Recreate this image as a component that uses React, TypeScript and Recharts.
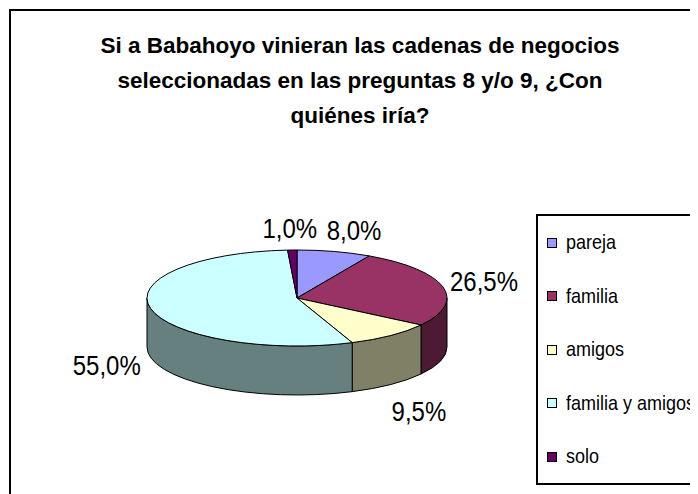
import React from 'react';
import { PieChart, Pie, Legend } from 'recharts';

const categories = ['pareja', 'familia', 'amigos', 'familia y amigos', 'solo'];
const percentages = [8.0, 26.5, 9.5, 55.0, 1.0];
const sliceColors = ['#9999FF', '#993366', '#FFFFCC', '#CCFFFF', '#660066'];
const titleLines = [
  'Si a Babahoyo vinieran las cadenas de negocios',
  'seleccionadas en las preguntas 8 y/o 9, ¿Con',
  'quiénes iría?',
];

const data = categories.map((name, i) => ({ name, value: percentages[i], fill: sliceColors[i] }));

const TILT = 0.32; // vertical squash of the top ellipse
const DEPTH = 49; // height of the pie wall
const FONT = "'Liberation Sans', Arial, sans-serif";

// darker shade for the side walls
const shade = (hex: string) => {
  const n = parseInt(hex.slice(1), 16);
  const r = Math.round(((n >> 16) & 255) * 0.5);
  const g = Math.round(((n >> 8) & 255) * 0.5);
  const b = Math.round((n & 255) * 0.5);
  return `rgb(${r},${g},${b})`;
};

const pt = (cx: number, cy: number, rx: number, deg: number) => {
  const r = (deg * Math.PI) / 180;
  return [cx + rx * Math.cos(r), cy - rx * TILT * Math.sin(r)];
};

function TopFace(props: any) {
  const { cx, cy, outerRadius, startAngle, endAngle } = props;
  const color = props.payload?.fill ?? props.fill;
  const rx = outerRadius;
  const ry = rx * TILT;
  const [x1, y1] = pt(cx, cy, rx, startAngle);
  const [x2, y2] = pt(cx, cy, rx, endAngle);
  const large = Math.abs(startAngle - endAngle) > 180 ? 1 : 0;
  const sweep = startAngle > endAngle ? 1 : 0;
  const d = `M${cx},${cy} L${x1},${y1} A${rx},${ry} 0 ${large} ${sweep} ${x2},${y2} Z`;
  return <path d={d} fill={color} stroke="#000" strokeWidth={1} strokeLinejoin="round" />;
}

function SideFace(props: any) {
  const { cx, cy, outerRadius, startAngle, endAngle } = props;
  const color = shade(props.payload?.fill ?? props.fill);
  const rx = outerRadius;
  const ry = rx * TILT;
  const lo = Math.min(startAngle, endAngle);
  const hi = Math.max(startAngle, endAngle);
  const paths: string[] = [];
  for (let n = -2; n <= 1; n++) {
    const a = Math.max(lo, 180 + 360 * n);
    const b = Math.min(hi, 360 + 360 * n);
    if (b - a <= 0.01) continue;
    const [xb, yb] = pt(cx, cy, rx, b);
    const [xa, ya] = pt(cx, cy, rx, a);
    paths.push(
      `M${xb},${yb} A${rx},${ry} 0 0 1 ${xa},${ya} L${xa},${ya + DEPTH} A${rx},${ry} 0 0 0 ${xb},${yb + DEPTH} Z`
    );
  }
  return (
    <g>
      {paths.map((d, i) => (
        <path key={i} d={d} fill={color} stroke="#000" strokeWidth={1} strokeLinejoin="round" />
      ))}
    </g>
  );
}

const renderLabel = (props: any) => {
  const { cx, cy, outerRadius, midAngle, value } = props;
  const r = (midAngle * Math.PI) / 180;
  const s = Math.sin(r);
  const ry = outerRadius * TILT;
  // labels near the top get pushed further out sideways so they don't collide
  const gap = s > 0 ? 40 + 42 * s * s : 45;
  const x = cx + (outerRadius + gap) * Math.cos(r);
  const y = s >= 0 ? cy - (ry + 22) * s : cy - (ry + 34) * s + DEPTH;
  return (
    <g transform={`translate(${x},${y}) scale(1,1.18)`}>
      <text x={0} y={0} textAnchor="middle" dominantBaseline="central" fill="#000" fontFamily={FONT} fontSize={24}>
        {`${value.toFixed(1).replace('.', ',')}%`}
      </text>
    </g>
  );
};

const renderLegend = (props: any) => {
  const seen = new Set<string>();
  const items = (props.payload || [])
    .filter((p: any) => {
      if (seen.has(p.value)) return false;
      seen.add(p.value);
      return true;
    })
    .sort((a: any, b: any) => categories.indexOf(a.value) - categories.indexOf(b.value));
  return (
    <div style={{ border: '2px solid #000', background: '#fff', height: 271, boxSizing: 'border-box' }}>
      {items.map((p: any) => (
        <div key={p.value} style={{ height: 53.5, display: 'flex', alignItems: 'center', fontFamily: FONT, fontSize: 18 }}>
          <span
            style={{
              width: 8,
              height: 8,
              marginLeft: 9,
              marginRight: 9,
              background: p.payload?.fill ?? p.color,
              border: '1px solid #000',
            }}
          />
          <span style={{ display: 'inline-block', transform: 'scaleY(1.12)' }}>{p.value}</span>
        </div>
      ))}
    </div>
  );
};

export default function App() {
  return (
    <div style={{ position: 'relative', width: 690, height: 486, overflow: 'hidden', background: '#fff' }}>
      <div style={{ position: 'absolute', left: 1, top: 1, width: 800, height: 600, border: '2px solid #000' }} />
      <div
        style={{
          position: 'absolute',
          left: 52,
          top: 20,
          width: 600,
          textAlign: 'center',
          fontFamily: FONT,
          fontWeight: 'bold',
          fontSize: 22.5,
          lineHeight: '35px',
        }}
      >
        {titleLines.map(line => (
          <div key={line}>{line}</div>
        ))}
      </div>
      <div style={{ position: 'absolute', left: 0, top: 0 }}>
        <PieChart width={690} height={486} margin={{ top: 0, right: 0, bottom: 0, left: 0 }}>
          <Pie
            data={data}
            dataKey="value"
            nameKey="name"
            cx={289}
            cy={290}
            outerRadius={150}
            startAngle={90}
            endAngle={-270}
            shape={SideFace}
            inactiveShape={SideFace}
            activeShape={SideFace}
            legendType="none"
            isAnimationActive={false}
          />
          <Pie
            data={data}
            dataKey="value"
            nameKey="name"
            cx={289}
            cy={290}
            outerRadius={150}
            startAngle={90}
            endAngle={-270}
            shape={TopFace}
            inactiveShape={TopFace}
            activeShape={TopFace}
            label={renderLabel}
            labelLine={false}
            isAnimationActive={false}
          />
          <Legend
            layout="vertical"
            align="right"
            verticalAlign="top"
            content={renderLegend}
            wrapperStyle={{ left: 528, top: 206, width: 200, height: 271 }}
          />
        </PieChart>
      </div>
    </div>
  );
}
